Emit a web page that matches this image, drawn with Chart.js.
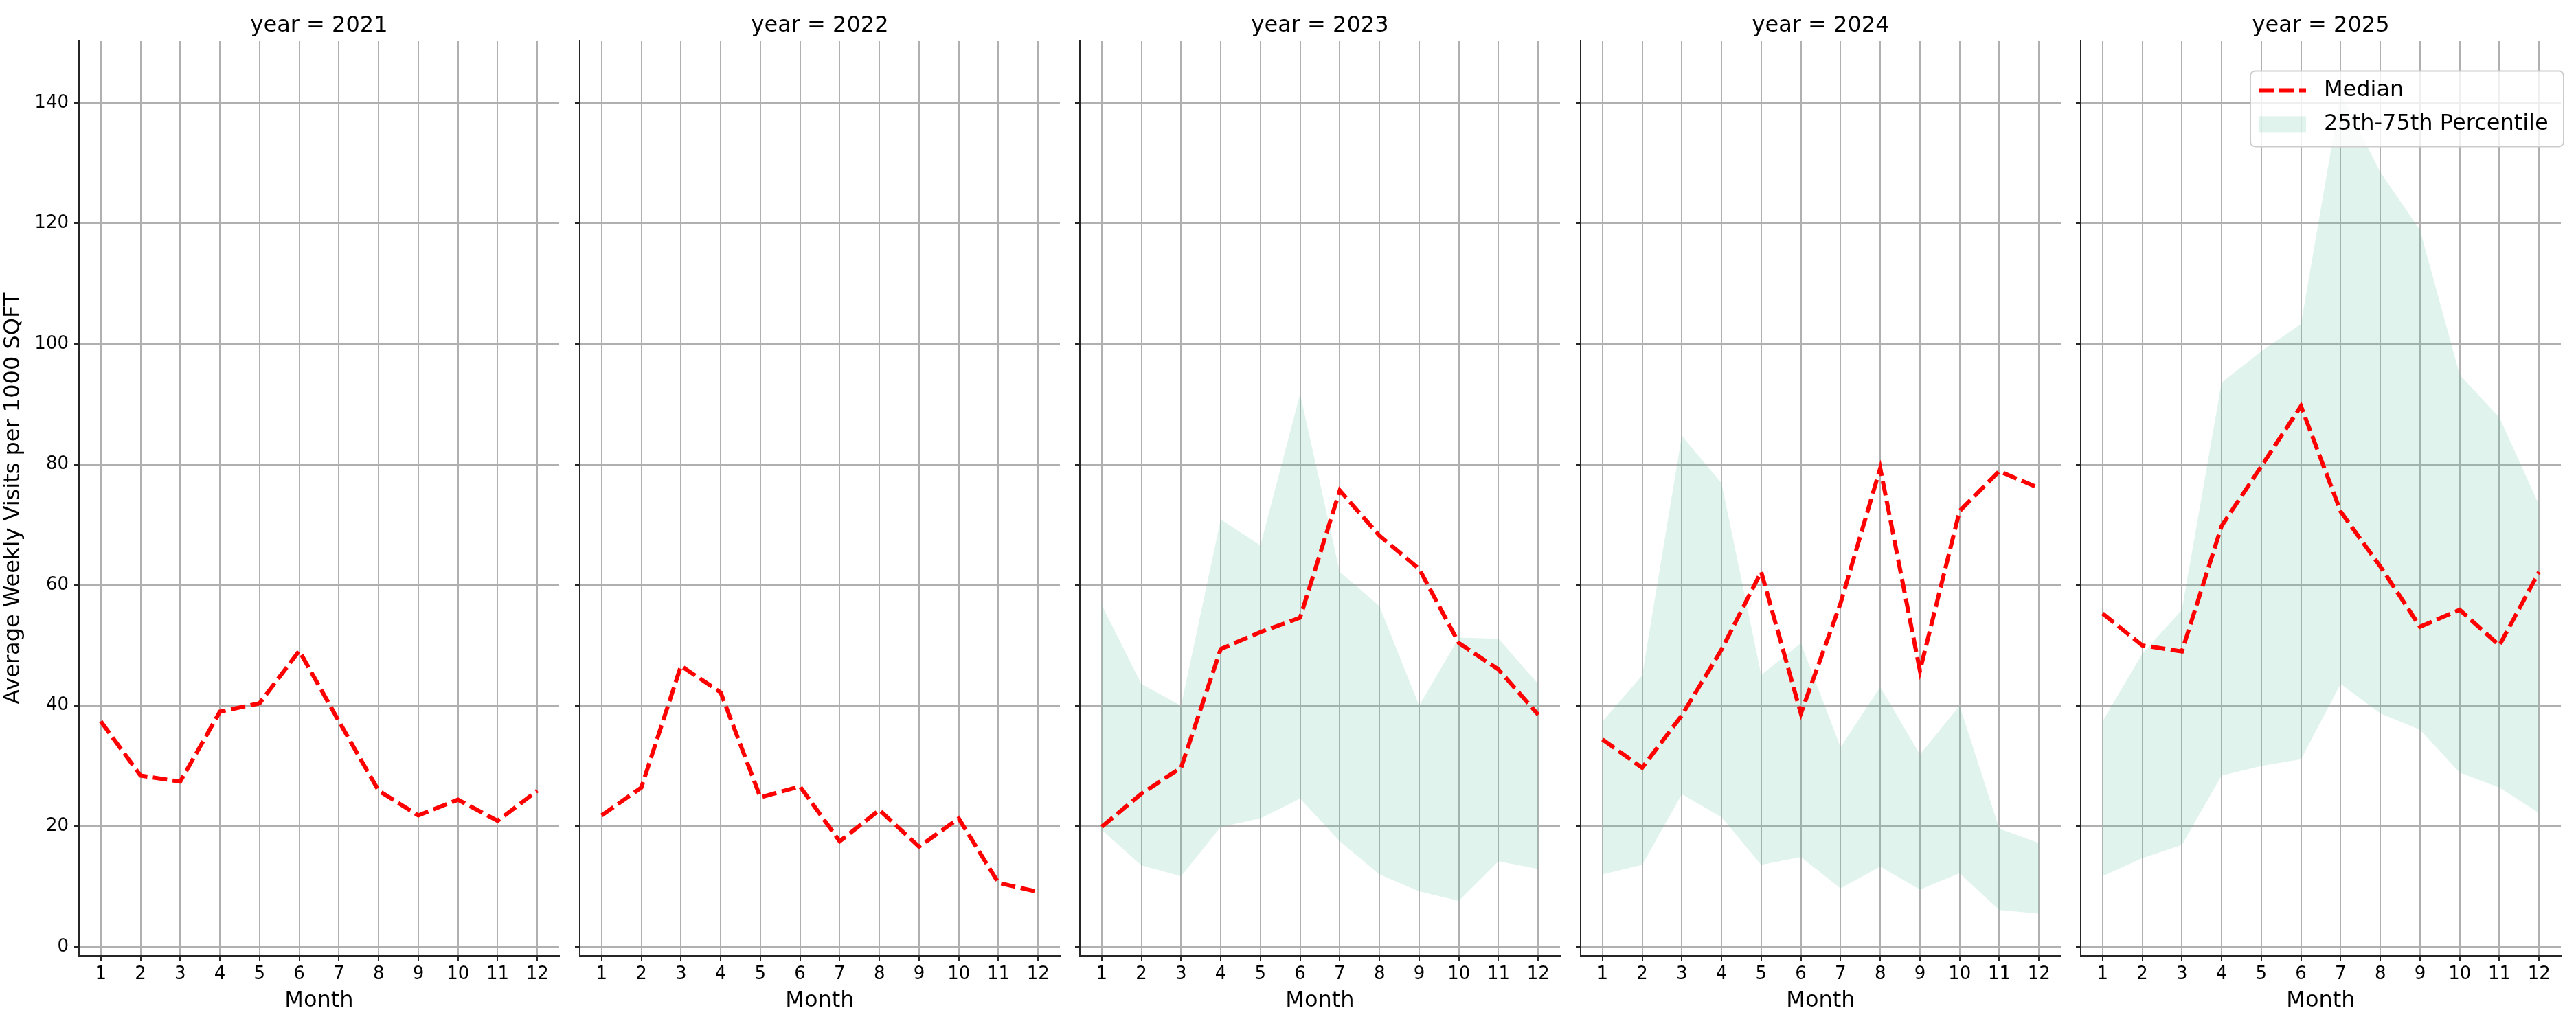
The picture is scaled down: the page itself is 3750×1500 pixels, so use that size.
<!DOCTYPE html>
<html>
<head>
<meta charset="utf-8">
<script src="https://cdn.jsdelivr.net/npm/chart.js@4.4.1/dist/chart.umd.min.js"></script>
<style>
  body { margin: 0; background: #fff; width: 3750px; height: 1500px; overflow: hidden; position: relative; }
  .panel { position: absolute; top: 0; }
</style>
</head>
<body>
<script>
// facet values
const months = [1, 2, 3, 4, 5, 6, 7, 8, 9, 10, 11, 12];
const years = [2021, 2022, 2023, 2024, 2025];
const yTicks = [0, 20, 40, 60, 80, 100, 120, 140];

const median2021 = [37.4, 28.4, 27.4, 39.0, 40.4, 49.1, 37.4, 25.9, 21.8, 24.4, 20.9, 25.9];
const median2022 = [21.8, 26.4, 46.6, 42.2, 24.8, 26.6, 17.5, 22.7, 16.6, 21.3, 10.6, 9.1];
const median2023 = [19.9, 25.4, 29.7, 49.4, 52.2, 54.6, 75.7, 68.2, 62.7, 50.4, 46.0, 38.5];
const median2024 = [34.4, 29.7, 38.4, 49.3, 62.2, 38.7, 57.0, 79.4, 45.8, 72.3, 78.9, 76.1];
const median2025 = [55.3, 50.0, 49.0, 69.8, 79.7, 89.7, 72.2, 63.1, 53.1, 55.9, 50.0, 62.2];

const p75_2023 = [56.7, 43.6, 40.0, 70.9, 66.6, 91.7, 62.2, 56.5, 40.0, 51.3, 51.1, 43.6];
const p25_2023 = [19.4, 13.5, 11.7, 19.9, 21.3, 24.6, 17.5, 12.0, 9.2, 7.6, 14.2, 12.9];
const p75_2024 = [37.4, 45.0, 84.8, 76.9, 45.1, 50.4, 33.1, 43.1, 31.9, 40.0, 19.6, 17.2];
const p25_2024 = [12.0, 13.6, 25.3, 21.5, 13.6, 14.9, 9.7, 13.3, 9.5, 12.2, 6.1, 5.5];
const p75_2025 = [37.4, 48.6, 55.9, 93.6, 98.8, 103.3, 141.5, 128.5, 118.9, 94.9, 87.8, 73.3];
const p25_2025 = [11.7, 14.7, 16.9, 28.4, 30.0, 31.1, 43.6, 38.7, 36.0, 28.9, 26.4, 22.2];

const medians = [median2021, median2022, median2023, median2024, median2025];
const upper = [null, null, p75_2023, p75_2024, p75_2025];
const lower = [null, null, p25_2023, p25_2024, p25_2025];

const FONT = "'DejaVu Sans', sans-serif";
const BAND = 'rgba(102, 194, 165, 0.2)';
const AXIS = '#262626';
const GRID = '#b0b0b0';

const PAD = 115, AREA_W = 699, GAP = 29.5;

const pts = vals => months.map((m, i) => ({ x: m, y: vals[i] }));

// matplotlib-style legend box inside the last facet
const boxLegend = {
    id: 'boxLegend',
    afterDraw(chart, args, opts) {
        if (!opts.show) return;
        const { ctx, chartArea } = chart;
        const w = 456, h = 110;
        const x0 = chartArea.right + 4 - w, y0 = chartArea.top + 44;
        const med = chart.data.datasets.find(d => d.label === 'Median');
        const band = chart.data.datasets.find(d => d.fill === '+1');
        ctx.save();
        ctx.beginPath();
        ctx.roundRect(x0, y0, w, h, 7);
        ctx.fillStyle = 'rgba(255,255,255,0.8)';
        ctx.fill();
        ctx.lineWidth = 2;
        ctx.strokeStyle = '#cccccc';
        ctx.stroke();
        ctx.beginPath();
        ctx.setLineDash(med.borderDash);
        ctx.strokeStyle = med.borderColor;
        ctx.lineWidth = med.borderWidth;
        ctx.moveTo(x0 + 13, y0 + 28);
        ctx.lineTo(x0 + 81, y0 + 28);
        ctx.stroke();
        ctx.setLineDash([]);
        ctx.fillStyle = band.backgroundColor;
        ctx.fillRect(x0 + 13, y0 + 66, 68, 23);
        ctx.fillStyle = '#000';
        ctx.font = '32px ' + FONT;
        ctx.textBaseline = 'middle';
        ctx.fillText(med.label, x0 + 107, y0 + 28);
        ctx.fillText(band.label, x0 + 107, y0 + 77);
        ctx.restore();
    }
};

years.forEach((yr, k) => {
    const div = document.createElement('div');
    div.className = 'panel';
    const left = 115 + k * (AREA_W + GAP) - PAD;
    div.style.left = left + 'px';
    const cv = document.createElement('canvas');
    cv.width = AREA_W + 2 * PAD;
    cv.height = 1500;
    div.appendChild(cv);
    document.body.appendChild(div);

    const datasets = [];
    if (upper[k]) {
        datasets.push({ label: '25th-75th Percentile', data: pts(upper[k]), fill: '+1', backgroundColor: BAND, borderWidth: 0, pointRadius: 0, order: 2 });
        datasets.push({ label: '25th', data: pts(lower[k]), fill: false, borderWidth: 0, pointRadius: 0, order: 2 });
    }
    datasets.push({
        label: 'Median', data: pts(medians[k]), borderColor: '#ff0000', borderWidth: 6,
        borderDash: [21, 8], borderCapStyle: 'butt', pointRadius: 0, fill: false, tension: 0, order: 0
    });

    new Chart(cv.getContext('2d'), {
        type: 'line',
        data: { datasets },
        plugins: [boxLegend],
        options: {
            responsive: false,
            animation: false,
            devicePixelRatio: 1,
            layout: { padding: { left: 0, right: PAD, top: 0, bottom: 0 } },
            plugins: {
                legend: { display: false },
                tooltip: { enabled: false },
                boxLegend: { show: k === years.length - 1 },
                title: {
                    display: true, fullSize: false, text: 'year = ' + yr, color: '#000',
                    font: { family: FONT, size: 32, weight: 'normal' },
                    padding: { top: 18, bottom: 3 }
                }
            },
            scales: {
                x: {
                    type: 'linear', min: 0.45, max: 12.55,
                    afterBuildTicks: ax => { ax.ticks = months.map(v => ({ value: v })); },
                    afterFit: sc => { sc.height = 108; },
                    grid: { color: GRID, lineWidth: 2, tickColor: AXIS, tickLength: 7, tickWidth: 2 },
                    border: { display: true, color: AXIS, width: 2 },
                    ticks: { color: '#000', font: { family: FONT, size: 26 }, padding: 5, maxRotation: 0, autoSkip: false },
                    title: { display: true, text: 'Month', color: '#000', font: { family: FONT, size: 32 }, padding: { top: 0, bottom: 23 } }
                },
                y: {
                    type: 'linear', min: -1.5, max: 150.3,
                    afterBuildTicks: ax => { ax.ticks = yTicks.map(v => ({ value: v })); },
                    afterFit: sc => { sc.width = PAD; },
                    grid: { color: GRID, lineWidth: 2, tickColor: AXIS, tickLength: 7, tickWidth: 2 },
                    border: { display: true, color: AXIS, width: 2 },
                    ticks: { display: k === 0, color: '#000', font: { family: FONT, size: 26 }, padding: 8 },
                    title: {
                        display: k === 0, text: 'Average Weekly Visits per 1000 SQFT', color: '#000',
                        font: { family: FONT, size: 32 }, padding: { top: 0, bottom: 0 }
                    }
                }
            }
        }
    });
});
</script>
</body>
</html>
